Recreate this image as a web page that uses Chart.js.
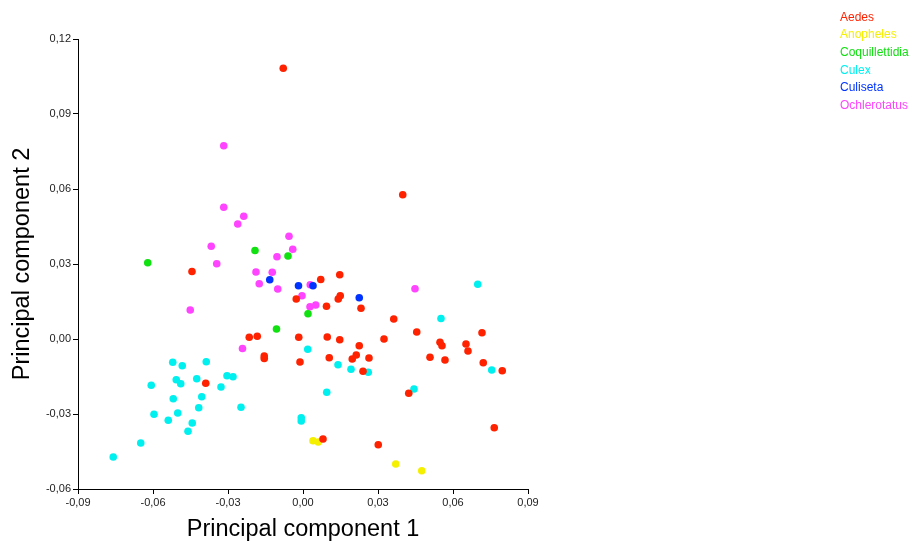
<!DOCTYPE html>
<html>
<head>
<meta charset="utf-8">
<script src="https://cdn.jsdelivr.net/npm/chart.js@4"></script>
<style>
  html, body { margin: 0; padding: 0; background: #fff; }
  #wrap { width: 913px; height: 541px; }
</style>
</head>
<body>
<div id="wrap"><canvas id="pca" width="913" height="541"></canvas></div>
<script>
// PCA scores, [PC1, PC2] per specimen
const aedes = [
  [-0.0079, 0.1083], [0.0399, 0.0577], [-0.0444, 0.0270], [0.0147, 0.0257],
  [0.0071, 0.0238], [-0.0027, 0.0160], [0.0141, 0.0160], [0.0149, 0.0173],
  [0.0094, 0.0131], [0.0232, 0.0123], [0.0363, 0.0080], [0.0455, 0.0028],
  [0.0716, 0.0025], [-0.0215, 0.0007], [-0.0183, 0.0011], [-0.0017, 0.0007],
  [0.0097, 0.0008], [0.0147, -0.0003], [0.0324, 0.0000], [0.0225, -0.0027],
  [0.0548, -0.0013], [0.0556, -0.0027], [0.0652, -0.0020], [0.0660, -0.0048],
  [-0.0155, -0.0068], [-0.0155, -0.0078], [-0.0012, -0.0092], [0.0105, -0.0075],
  [0.0197, -0.0080], [0.0213, -0.0064], [0.0264, -0.0076], [0.0508, -0.0073],
  [0.0568, -0.0084], [0.0721, -0.0095], [0.0797, -0.0127], [0.0240, -0.0129],
  [-0.0389, -0.0177], [0.0423, -0.0217], [0.0765, -0.0355], [0.0080, -0.0400],
  [0.0301, -0.0423]
];
const anopheles = [
  [0.0040, -0.0407], [0.0061, -0.0412], [0.0371, -0.0500], [0.0475, -0.0527]
];
const coquillettidia = [
  [-0.0621, 0.0305], [-0.0192, 0.0354], [-0.0060, 0.0332], [0.0020, 0.0101],
  [-0.0106, 0.0040]
];
const culex = [
  [0.0699, 0.0219], [0.0552, 0.0082], [0.0019, -0.0041], [0.0140, -0.0103],
  [0.0192, -0.0121], [0.0261, -0.0133], [0.0755, -0.0124], [0.0095, -0.0213],
  [0.0444, -0.0200], [-0.0007, -0.0315], [-0.0007, -0.0328], [-0.0521, -0.0093],
  [-0.0483, -0.0107], [-0.0387, -0.0091], [-0.0507, -0.0163], [-0.0489, -0.0179],
  [-0.0425, -0.0159], [-0.0304, -0.0147], [-0.0280, -0.0151], [-0.0607, -0.0185],
  [-0.0328, -0.0192], [-0.0519, -0.0239], [-0.0405, -0.0231], [-0.0417, -0.0275],
  [-0.0248, -0.0273], [-0.0596, -0.0301], [-0.0501, -0.0296], [-0.0539, -0.0325],
  [-0.0443, -0.0336], [-0.0460, -0.0369], [-0.0649, -0.0416], [-0.0759, -0.0472]
];
const culiseta = [
  [-0.0133, 0.0237], [-0.0018, 0.0213], [0.0040, 0.0213], [0.0225, 0.0165]
];
const ochlerotatus = [
  [-0.0317, 0.0773], [-0.0317, 0.0527], [-0.0237, 0.0491], [-0.0261, 0.0460],
  [-0.0056, 0.0411], [-0.0041, 0.0359], [-0.0367, 0.0371], [-0.0345, 0.0301],
  [-0.0188, 0.0268], [-0.0123, 0.0267], [-0.0104, 0.0329], [-0.0175, 0.0221],
  [-0.0101, 0.0200], [0.0029, 0.0217], [-0.0004, 0.0173], [0.0028, 0.0129],
  [0.0051, 0.0136], [0.0448, 0.0201], [-0.0451, 0.0116], [-0.0242, -0.0038]
];

const genera = ["Aedes", "Anopheles", "Coquillettidia", "Culex", "Culiseta", "Ochlerotatus"];
const groups = [aedes, anopheles, coquillettidia, culex, culiseta, ochlerotatus];
const colors = ["#ff2200", "#f5f000", "#11e011", "#00f0f0", "#0033ff", "#ff44ff"];

const xTicks = [-0.09, -0.06, -0.03, 0, 0.03, 0.06, 0.09];
const yTicks = [-0.06, -0.03, 0, 0.03, 0.06, 0.09, 0.12];

function fmt(v) {
  const s = Math.abs(v).toFixed(2).replace('.', ',');
  return (v < -1e-9 ? '-' : '') + s;
}

// legend drawn as coloured text, top right
const textLegend = {
  id: 'textLegend',
  afterDraw(chart) {
    const c = chart.ctx;
    c.save();
    c.font = '12px "Liberation Sans", Arial, sans-serif';
    c.textBaseline = 'middle';
    c.textAlign = 'left';
    chart.data.datasets.forEach((ds, i) => {
      c.fillStyle = ds.backgroundColor;
      c.fillText(ds.label, 840, 17.5 + i * 17.6);
    });
    c.restore();
  }
};

const axisLine = {
  display: true,
  drawOnChartArea: false,
  drawTicks: true,
  tickLength: 5,
  color: '#000',
  tickColor: '#000'
};

new Chart(document.getElementById('pca'), {
  type: 'scatter',
  data: {
    datasets: genera.map((g, i) => ({
      label: g,
      data: groups[i].map(p => ({ x: p[0], y: p[1] })),
      backgroundColor: colors[i],
      borderColor: colors[i],
      borderWidth: 0,
      pointRadius: 3.8,
      pointHoverRadius: 3.8
    }))
  },
  options: {
    responsive: false,
    animation: false,
    layout: { padding: { left: 0, right: 385, top: 39, bottom: 0 } },
    plugins: {
      legend: { display: false },
      tooltip: { enabled: false }
    },
    scales: {
      x: {
        type: 'linear',
        min: -0.09, max: 0.09,
        afterBuildTicks: s => { s.ticks = xTicks.map(v => ({ value: v })); },
        afterFit: s => { s.height = 52; },
        grid: axisLine,
        border: { color: '#000', width: 1 },
        ticks: {
          callback: v => fmt(v),
          color: '#222',
          font: { family: '"Liberation Sans", Arial, sans-serif', size: 11 },
          padding: 2,
          maxRotation: 0
        },
        title: {
          display: true,
          text: 'Principal component 1',
          color: '#000',
          font: { family: '"Liberation Sans", Arial, sans-serif', size: 23.5 },
          padding: { top: 0, bottom: -3 }
        }
      },
      y: {
        type: 'linear',
        min: -0.06, max: 0.12,
        afterBuildTicks: s => { s.ticks = yTicks.map(v => ({ value: v })); },
        afterFit: s => { s.width = 78; },
        grid: axisLine,
        border: { color: '#000', width: 1 },
        ticks: {
          callback: v => fmt(v),
          color: '#222',
          font: { family: '"Liberation Sans", Arial, sans-serif', size: 11 },
          padding: 2
        },
        title: {
          display: true,
          text: 'Principal component 2',
          color: '#000',
          font: { family: '"Liberation Sans", Arial, sans-serif', size: 23.5 },
          padding: { top: 8, bottom: 0 }
        }
      }
    }
  },
  plugins: [textLegend]
});
</script>
</body>
</html>
